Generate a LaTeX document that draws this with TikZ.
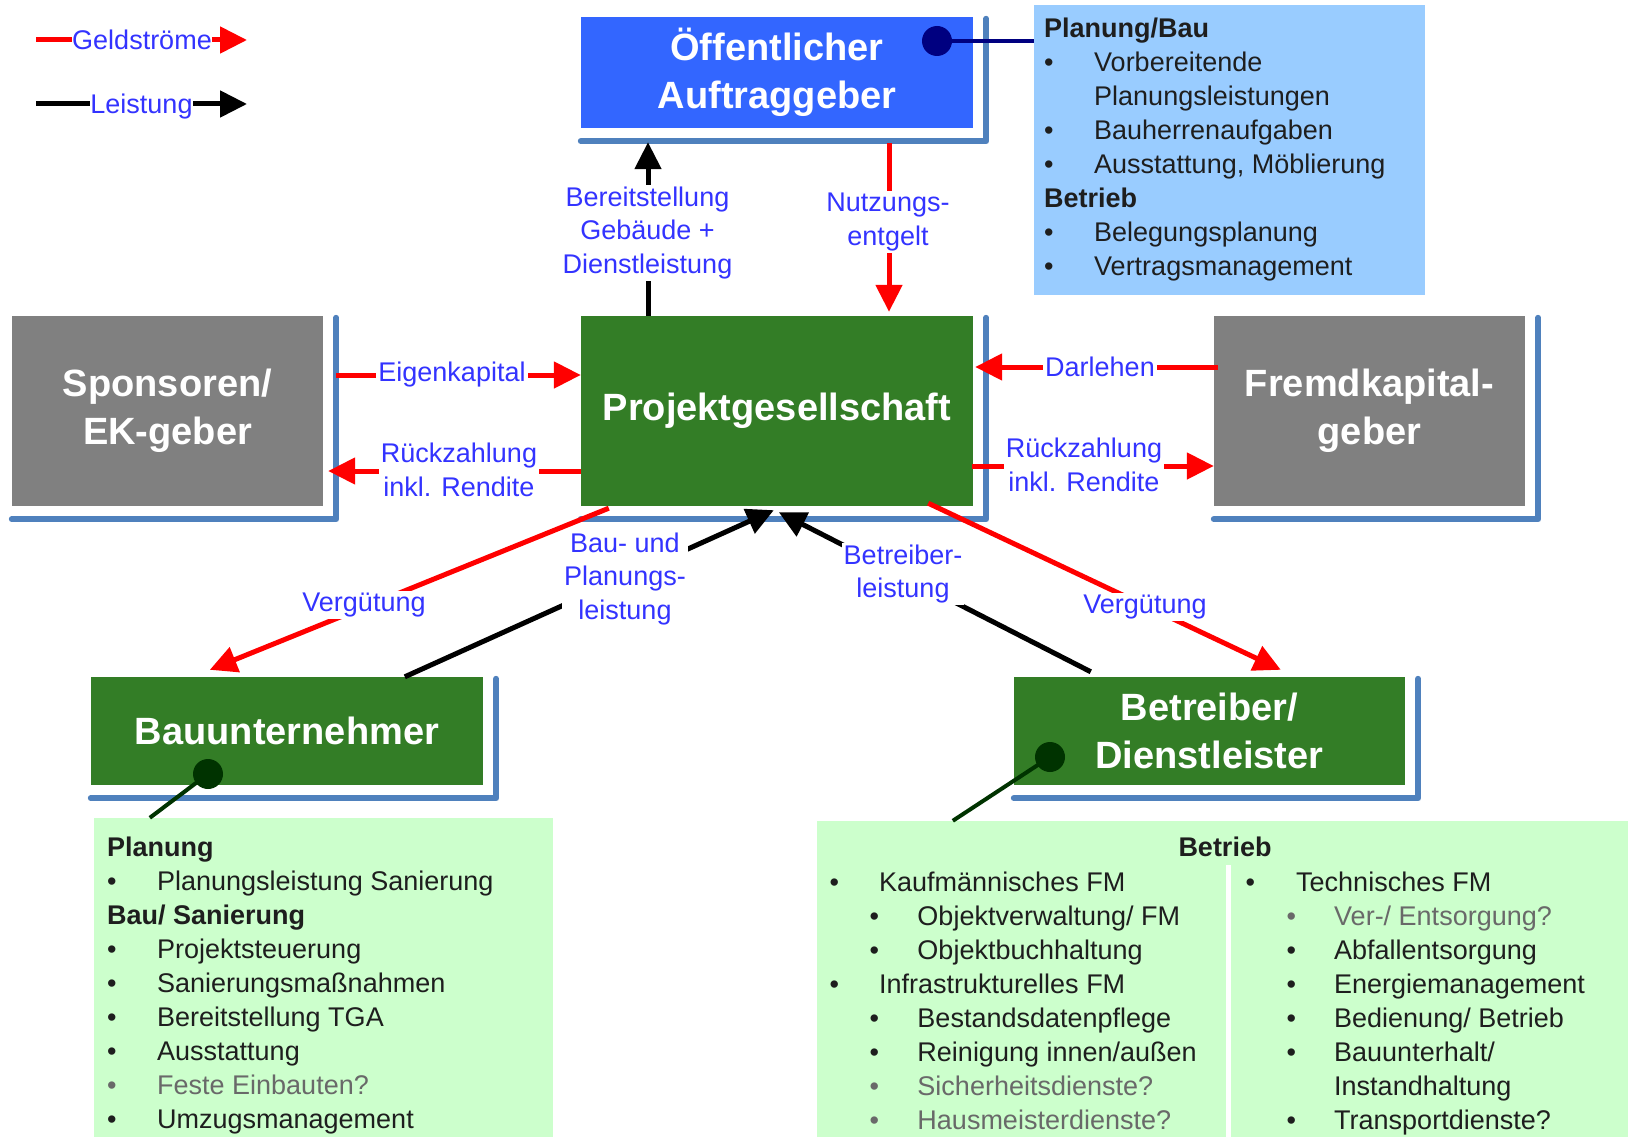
\documentclass[tikz,border=0pt]{standalone}
\usepackage{fontspec}
\setmainfont{Liberation Sans}
\usetikzlibrary{arrows.meta,calc}
\definecolor{boxblue}{RGB}{51,102,255}
\definecolor{boxgreen}{RGB}{51,125,38}
\definecolor{boxgray}{RGB}{128,128,128}
\definecolor{shadowblue}{RGB}{79,129,189}
\definecolor{lblblue}{RGB}{51,51,255}
\definecolor{lightblue}{RGB}{153,204,255}
\definecolor{lightgreen}{RGB}{204,255,204}
\definecolor{dotnavy}{RGB}{0,0,128}
\definecolor{dotgreen}{RGB}{0,51,0}
\definecolor{itemtext}{RGB}{30,30,30}
\definecolor{itemgray}{RGB}{105,105,105}
\newcommand\bul[1]{\makebox[#1pt][l]{\textbullet}}
\newcommand\boxshade[1]{\draw[shad] ($(#1.north east)+(13,2)$) -- ($(#1.south east)+(13,13)$) -- ($(#1.south west)+(0,13)$);}
\tikzset{
  mainbox/.style={draw=none, inner sep=0pt, text=white, font=\fontsize{38}{48}\selectfont\bfseries, align=center},
  lbl/.style={fill=white, text=lblblue, font=\fontsize{27}{33.5}\selectfont, align=center, inner sep=2pt},
  money/.style={draw=red, line width=5pt, -{Triangle[length=27pt,width=26pt]}},
  perf/.style={draw=black, line width=5pt, -{Triangle[length=27pt,width=26pt]}},
  shad/.style={draw=shadowblue, line width=6pt, line cap=round, line join=round},
  listtext/.style={inner sep=0pt, anchor=north west, align=left, text=itemtext, font=\fontsize{27}{34}\selectfont},
  infobox/.style={draw=none, inner sep=0pt},
  dotstyle/.style={circle, inner sep=0pt, minimum size=30pt},
}
\begin{document}
\begin{tikzpicture}[x=1pt,y=-1pt]
\useasboundingbox (0,0) rectangle (1628,1137);
\fill[white] (0,0) rectangle (1628,1137);

% info boxes
\node[infobox, fill=lightblue, minimum width=391pt, minimum height=290pt] (lb) at (1229.5,150) {};
\node[infobox, fill=lightgreen, minimum width=459pt, minimum height=319pt] (lgL) at (323.5,977.5) {};
\node[infobox, fill=lightgreen, minimum width=811pt, minimum height=316pt] (lgR) at (1222.5,979) {};
\draw[white, line width=5pt] ($(lgR.south west)+(412,0)$) -- ($(lgR.north west)+(412,44)$);

% main boxes
\node[mainbox, fill=boxblue, minimum width=392pt, minimum height=111pt] (oeff) at (777,72.5) {Öffentlicher\\Auftraggeber};
\node[mainbox, fill=boxgreen, minimum width=392pt, minimum height=190pt] (proj) at (777,411) {Projektgesellschaft};
\node[mainbox, fill=boxgray, minimum width=311pt, minimum height=190pt] (spons) at (167.5,411) {Sponsoren/\\EK-geber};
\node[mainbox, fill=boxgray, minimum width=311pt, minimum height=190pt] (fremd) at (1369.5,411) {Fremdkapital-\\geber};
\node[mainbox, fill=boxgreen, minimum width=392pt, minimum height=108pt] (bau) at (287,731) {Bauunternehmer};
\node[mainbox, fill=boxgreen, minimum width=391pt, minimum height=108pt] (betr) at (1209.5,731) {Betreiber/\\Dienstleister};
\boxshade{oeff}
\boxshade{proj}
\boxshade{spons}
\boxshade{fremd}
\boxshade{bau}
\boxshade{betr}

% dots and pointer lines
\node[dotstyle, fill=dotnavy] (odot) at (937,41) {};
\draw[dotnavy, line width=4pt] (odot.east) -- (odot -| lb.west);
\node[dotstyle, fill=dotgreen] (bdot) at (208,774) {};
\draw[dotgreen, line width=4pt] (bdot.center) -- ($(lgL.north west)+(56,0)$);
\node[dotstyle, fill=dotgreen] (tdot) at (1050,757) {};
\draw[dotgreen, line width=4pt] (tdot.center) -- ($(lgR.north west)+(136,0)$);

% connectors
\draw[perf] ($(proj.north)+(-129,0)$) -- ($(oeff.south)+(-129,14)$);
\draw[money] ($(oeff.south)+(112,15)$) -- ($(proj.north)+(112,-4)$);
\draw[money] ($(spons.east)+(13,-36)$) -- ($(proj.west)+(0,-36)$);
\draw[money] ($(proj.west)+(0,60)$) -- ($(spons.east)+(5,60)$);
\draw[money] ($(fremd.west)+(4,-44)$) -- ($(proj.east)+(2,-44)$);
\draw[money] ($(proj.east)+(-1,55)$) -- ($(fremd.west)+(0,55)$);
\draw[money] ($(proj.south west)+(28,2)$) -- ($(bau.north west)+(119,-7)$);
\draw[perf] ($(bau.north west)+(314,0)$) -- ($(proj.south west)+(193,4)$);
\draw[perf] ($(betr.north west)+(77,-5)$) -- ($(proj.south west)+(198,6)$);
\draw[money] ($(proj.south east)+(-45,-3)$) -- ($(betr.north west)+(267,-7)$);

% connector labels
\node[lbl] (l1) at (647.5,233) {Bereitstellung\\Gebäude +\\Dienstleistung};
\node[lbl] (l2) at (888,222) {Nutzungs-\\entgelt};
\node[lbl] (l3) at (452,375) {Eigenkapital};
\node[lbl] (l4) at (459,470) {Rückzahlung\\inkl. Rendite};
\node[lbl] (l5) at (1100,367) {Darlehen};
\node[lbl] (l6) at (1084,465) {Rückzahlung\\inkl. Rendite};
\node[lbl] (l7) at (364,605) {Vergütung};
\node[lbl] (l8) at (625,579) {Bau- und\\Planungs-\\leistung};
\node[lbl] (l9) at (903,574) {Betreiber-\\leistung};
\node[lbl] (l10) at (1145,607) {Vergütung};

% legend
\coordinate (g1a) at (36,40);
\coordinate (g1b) at (247,40);
\draw[money] (g1a) -- (g1b);
\node[lbl, inner sep=0pt] (leg1) at (142,40) {Geldströme};
\coordinate (g2a) at (36,104);
\coordinate (g2b) at (247,104);
\draw[perf] (g2a) -- (g2b);
\node[lbl, inner sep=0pt] (leg2) at (141.5,106.5) {Leistung};

% list texts
\node[listtext] (lbT) at (1044,13.7) {\strut\textbf{Planung/Bau}\\
\bul{50}Vorbereitende\\
\hspace*{50pt}Planungsleistungen\\
\bul{50}Bauherrenaufgaben\\
\bul{50}Ausstattung, Möblierung\\
\textbf{Betrieb}\\
\bul{50}Belegungsplanung\\
\bul{50}Vertragsmanagement};

\node[listtext] (lgLT) at (107,832.7) {\strut\textbf{Planung}\\
\bul{50}Planungsleistung Sanierung\\
\textbf{Bau/ Sanierung}\\
\bul{50}Projektsteuerung\\
\bul{50}Sanierungsmaßnahmen\\
\bul{50}Bereitstellung TGA\\
\bul{50}Ausstattung\\
{\color{itemgray}\bul{50}Feste Einbauten?}\\
\bul{50}Umzugsmanagement};

\node[text=itemtext, font=\fontsize{27}{34}\selectfont\bfseries, inner sep=0pt] (lgRh) at (1225,847) {Betrieb};

\node[listtext] (lgRa) at (829.3,867.7) {\strut\bul{49.7}Kaufmännisches FM\\
\hspace*{40pt}\bul{48}Objektverwaltung/ FM\\
\hspace*{40pt}\bul{48}Objektbuchhaltung\\
\bul{49.7}Infrastrukturelles FM\\
\hspace*{40pt}\bul{48}Bestandsdatenpflege\\
\hspace*{40pt}\bul{48}Reinigung innen/außen\\
{\color{itemgray}\hspace*{40pt}\bul{48}Sicherheitsdienste?}\\
{\color{itemgray}\hspace*{40pt}\bul{48}Hausmeisterdienste?}};

\node[listtext] (lgRb) at (1245.3,867.7) {\strut\bul{50.7}Technisches FM\\
{\color{itemgray}\hspace*{41pt}\bul{47.7}Ver-/ Entsorgung?}\\
\hspace*{41pt}\bul{47.7}Abfallentsorgung\\
\hspace*{41pt}\bul{47.7}Energiemanagement\\
\hspace*{41pt}\bul{47.7}Bedienung/ Betrieb\\
\hspace*{41pt}\bul{47.7}Bauunterhalt/\\
\hspace*{88.7pt}Instandhaltung\\
\hspace*{41pt}\bul{47.7}Transportdienste?};
\end{tikzpicture}
\end{document}
